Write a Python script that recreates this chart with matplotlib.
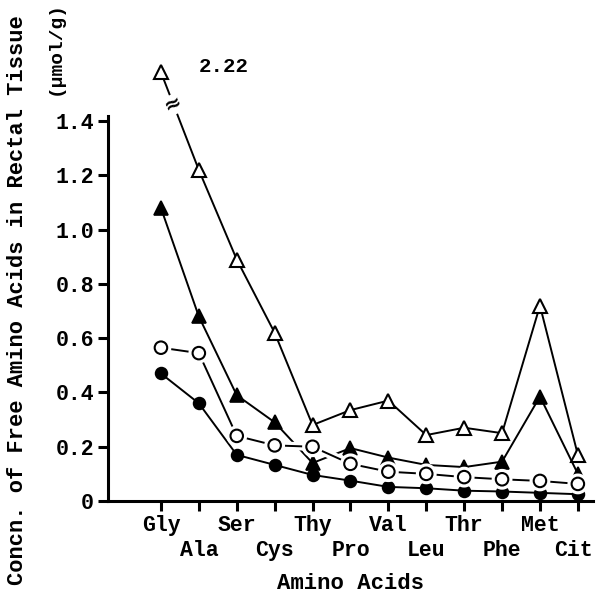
import numpy as np
import matplotlib
matplotlib.use("Agg")
import matplotlib.pyplot as plt
import matplotlib.patheffects as pe
import matplotlib.transforms as mtransforms

amino_acids = ["Gly", "Ala", "Ser", "Cys", "Thy", "Pro", "Val", "Leu", "Thr", "Phe", "Met", "Cit"]
open_tri = [2.22, 1.22, 0.89, 0.62, 0.28, 0.335, 0.37, 0.243, 0.27, 0.25, 0.72, 0.17]
filled_tri = [1.08, 0.68, 0.39, 0.29, 0.14, 0.195, 0.16, 0.133, 0.125, 0.145, 0.385, 0.10]
open_circ = [0.565, 0.545, 0.24, 0.205, 0.20, 0.137, 0.108, 0.10, 0.088, 0.08, 0.074, 0.063]
filled_circ = [0.47, 0.36, 0.17, 0.133, 0.096, 0.075, 0.052, 0.047, 0.038, 0.035, 0.03, 0.025]
yticks = [0, 0.2, 0.4, 0.6, 0.8, 1.0, 1.2, 1.4]
ytick_labels = ["0", "0.2", "0.4", "0.6", "0.8", "1.0", "1.2", "1.4"]

BREAK = 1.4
K = 0.22  # compression above the axis break


def disp(v):
    v = np.asarray(v, dtype=float)
    return np.where(v > BREAK, BREAK + (v - BREAK) * K, v)


FONT = dict(family="Liberation Mono", weight="bold")
plt.rcParams["font.family"] = "Liberation Mono"
plt.rcParams["font.weight"] = "bold"

fig = plt.figure(figsize=(5.96, 6.0), dpi=100)
ax = fig.add_axes([0.181, 0.165, 0.814, 0.743])
x = np.arange(len(amino_acids))

lw = 1.4
ax.plot(x, disp(filled_circ), color="black", lw=lw, marker="o", ms=8.5,
        mfc="black", mec="black", mew=1.2, zorder=3)
ax.plot(x, disp(filled_tri), color="black", lw=lw, marker="^", ms=9.5,
        mfc="black", mec="black", mew=1.2, zorder=3)
ax.plot(x, disp(open_circ), color="black", lw=lw, marker="o", ms=9,
        mfc="white", mec="black", mew=1.5, zorder=4,
        path_effects=[pe.Stroke(linewidth=6, foreground="white"), pe.Normal()])
ax.plot(x, disp(open_tri), color="black", lw=lw, marker="^", ms=10.5,
        mfc="white", mec="black", mew=1.5, zorder=5)

# axis-break mark on the Gly-Ala segment of the open triangle series
d = disp(open_tri)
bx = 0.33
by = d[0] + (d[1] - d[0]) * bx
ax.text(bx, by, "≈", fontsize=15, ha="center", va="center", rotation=25,
        family="DejaVu Sans", weight="bold", zorder=6,
        bbox=dict(boxstyle="square,pad=0.0", fc="white", ec="none"))

ax.annotate(f"{open_tri[0]:.2f}", xy=(x[0], d[0]), xytext=(45, 4),
            textcoords="offset points", ha="center", va="center",
            fontsize=15, **FONT)

ax.set_xlim(-1.40, 11.4)
ax.set_ylim(0, 1.643)
ax.spines["top"].set_visible(False)
ax.spines["right"].set_visible(False)
ax.spines["left"].set_bounds(0, 1.42)
for s in ("left", "bottom"):
    ax.spines[s].set_linewidth(2.2)

ax.set_yticks(yticks)
ax.set_yticklabels(ytick_labels, fontsize=15.5, **FONT)

# upper row (major ticks) and lower row (minor ticks) of staggered labels
ax.set_xticks(x[0::2])
ax.set_xticklabels(amino_acids[0::2], fontsize=15.5, **FONT)
ax.set_xticks(x[1::2], minor=True)
ax.set_xticklabels(amino_acids[1::2], minor=True, fontsize=15.5, **FONT)
ax.tick_params(axis="both", which="major", direction="out", length=7, width=2.2, pad=3)
ax.tick_params(axis="x", which="minor", direction="out", length=7, width=2.2, pad=21)
last = ax.get_xticklabels(minor=True)[-1]
last.set_transform(last.get_transform() +
                   mtransforms.ScaledTranslation(-4 / 100, 0, fig.dpi_scale_trans))

ax.set_xlabel("Amino Acids", fontsize=16, labelpad=9, **FONT)
fig.text(0.030, 0.500, "Concn. of Free Amino Acids in Rectal Tissue", rotation=90,
         ha="center", va="center", fontsize=15.8, **FONT)
fig.text(0.093, 0.998, "(µmol/g)", rotation=90, ha="center", va="top",
         fontsize=14, **FONT)

fig.savefig("out.png", dpi=100)
